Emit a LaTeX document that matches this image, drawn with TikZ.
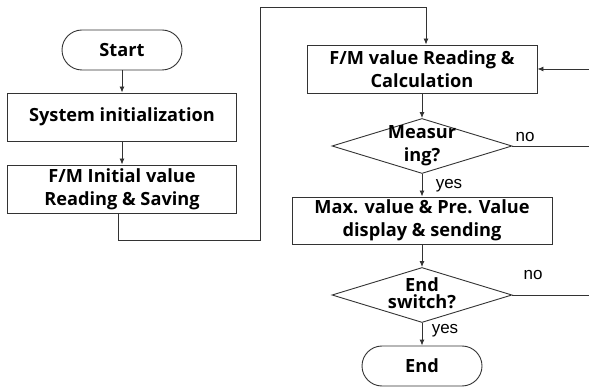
\documentclass[tikz,border=0pt]{standalone}
\usepackage{fontspec}
\setmainfont{Open Sans}
\newfontfamily\lblfont{Liberation Sans}
\usepackage{tikz}
\usetikzlibrary{shapes.geometric, arrows.meta}

\begin{document}
\begin{tikzpicture}[x=1pt, y=-1pt, line width=0.9pt,
        box/.style = {draw=black!80, rectangle, inner sep=0pt, align=center,
                      font=\fontsize{18.2}{23}\selectfont\bfseries},
        term/.style = {box, rounded corners=20pt, minimum width=120pt, minimum height=40pt},
        dec/.style = {draw=black!80, diamond, inner sep=0pt, minimum width=180pt, minimum height=55pt},
        dectext/.style = {inner sep=0pt, align=center, font=\fontsize{18.2}{23}\selectfont\bfseries},
        lbl/.style = {inner sep=0pt, font=\fontsize{17}{17}\selectfont\lblfont},
        arr/.style = {draw=black!80, -{Latex[length=6pt, width=5pt]}}]
    \useasboundingbox (0,0) rectangle (589,387);

    \node[term] (start) at (122,50) {Start};
    \node[box, minimum width=229pt, minimum height=48pt] (init) at (122,117) {System initialization};
    \node[box, minimum width=229pt, minimum height=48pt] (initread) at (122,189) {F/M Initial value\\Reading \& Saving};

    \node[box, minimum width=230pt, minimum height=48pt] (read) at (422,69) {F/M value Reading \&\\Calculation};
    \node[dec, label={[dectext]center:Measur\\ing?}] (meas) at (422,146) {};
    \node[box, minimum width=260pt, minimum height=47pt] (disp) at (422,220.5) {Max. value \& Pre. Value\\display \& sending};
    \node[dec, label={[dectext, yshift=2pt, font=\fontsize{18.2}{17}\selectfont\bfseries]center:End\\switch?}] (endsw) at (422,295) {};
    \node[term] (end) at (422,366) {End};

    \node[lbl] (measno) at (525,137) {no};
    \node[lbl] (measyes) at (449,186) {yes};
    \node[lbl] (endno) at (533,275) {no};
    \node[lbl] (endyes) at (445,331) {yes};

    \coordinate (bend) at (260,7);
    \coordinate (loopin) at (589,69);
    \coordinate (measout) at (589,146);
    \coordinate (endout) at (589,295);

    \draw[arr] (start) -- (init);
    \draw[arr] (init) -- (initread);
    \draw[arr] ([xshift=-4pt]initread.south) -- ++(0,27) -| (bend) -| ([xshift=4pt]read.north);
    \draw[arr] (loopin) -- (read.east);
    \draw[arr] (read) -- (meas);
    \draw[draw=black!80] (meas.east) -- (measout);
    \draw[arr] (meas) -- (disp);
    \draw[arr] (disp) -- (endsw);
    \draw[draw=black!80] (endsw.east) -- (endout);
    \draw[arr] (endsw) -- (end);
    % \draw (endout) -- (measout) -- (loopin);
\end{tikzpicture}
\end{document}
